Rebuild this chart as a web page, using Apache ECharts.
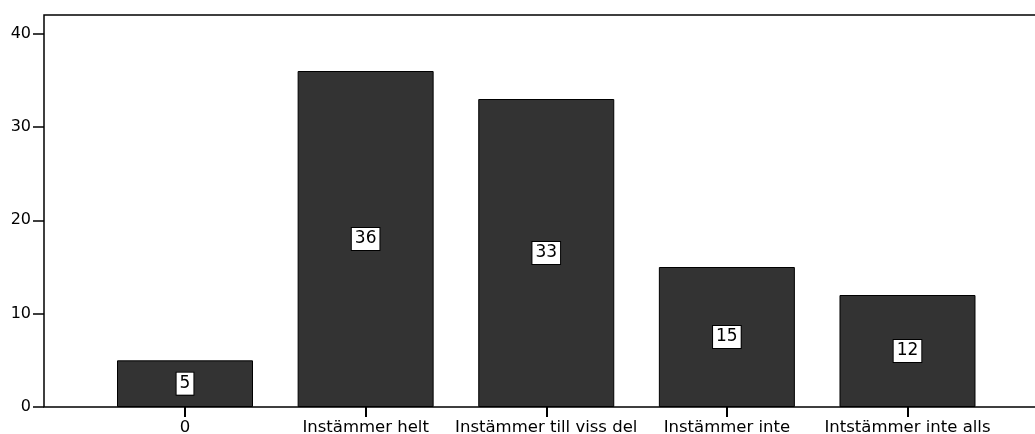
<!DOCTYPE html>
<html>
<head>
<meta charset="utf-8">
<script src="https://cdn.jsdelivr.net/npm/echarts@6/dist/echarts.min.js"></script>
<style>
html,body{margin:0;padding:0;background:#fff;}
#chart{width:1035px;height:434px;}
</style>
</head>
<body>
<div id="chart"></div>
<script>
var categories = ['0', 'Instämmer helt', 'Instämmer till viss del', 'Instämmer inte', 'Intstämmer inte alls'];
var values = [5, 36, 33, 15, 12];
var yMin = 0, yMax = 42, yInterval = 10;

var chart = echarts.init(document.getElementById('chart'), null, {renderer: 'canvas'});
var font = 'DejaVu Sans';
chart.setOption({
  animation: false,
  backgroundColor: '#ffffff',
  grid: [
    {left: 44, top: 15, width: 1060, bottom: 27, show: true, borderColor: '#000', borderWidth: 1.5, backgroundColor: 'transparent', containLabel: false, outerBoundsMode: 'none'},
    {left: 94.7, top: 15, right: 37.2, bottom: 27, containLabel: false, outerBoundsMode: 'none'}
  ],
  xAxis: [
    {type: 'value', gridIndex: 0, show: false, min: 0, max: 1},
    {type: 'category', gridIndex: 1, data: categories,
      axisLine: {show: false},
      axisTick: {show: true, alignWithLabel: true, length: 10, lineStyle: {color: '#000', width: 2}},
      axisLabel: {color: '#000', fontFamily: font, fontSize: 16.5, margin: 12, interval: 0}
    }
  ],
  yAxis: [
    {type: 'value', gridIndex: 0, min: yMin, max: yMax, interval: yInterval,
      axisLine: {show: false},
      axisTick: {show: true, length: 11, lineStyle: {color: '#000', width: 1.5}},
      splitLine: {show: false},
      axisLabel: {color: '#000', fontFamily: font, fontSize: 16, margin: 13, showMaxLabel: false}
    },
    {type: 'value', gridIndex: 1, min: yMin, max: yMax, show: false, splitLine: {show: false}}
  ],
  series: [{
    type: 'bar',
    xAxisIndex: 1,
    yAxisIndex: 1,
    data: values,
    barWidth: 136,
    itemStyle: {color: '#333333', borderColor: '#000', borderWidth: 1},
    label: {
      show: true,
      position: 'inside',
      color: '#000',
      fontFamily: font,
      fontSize: 17,
      backgroundColor: '#fff',
      borderColor: '#000',
      borderWidth: 1,
      padding: [3, 3, 2, 3]
    }
  }]
});
</script>
</body>
</html>
